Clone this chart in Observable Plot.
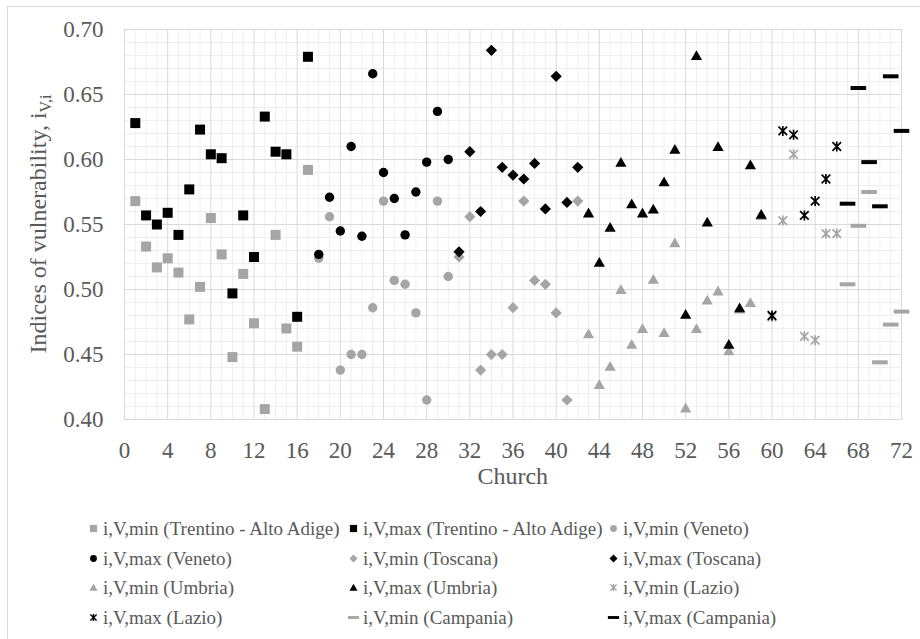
<!DOCTYPE html>
<html><head><meta charset="utf-8">
<script src="https://cdn.jsdelivr.net/npm/d3@7"></script>
<script src="https://cdn.jsdelivr.net/npm/@observablehq/plot@0.6"></script>
<style>
body{margin:0;background:#fff;width:920px;height:639px;overflow:hidden;position:relative;font-family:"Liberation Serif","Times New Roman",serif;color:#595959}
#frame{position:absolute;left:7px;top:6px;width:930px;height:650px;border:1px solid #d9d9d9;pointer-events:none;}
#chart{position:absolute;left:0;top:0}
#legend{position:absolute;left:87px;top:514px;display:grid;grid-template-columns:260px 260px 260px;grid-auto-rows:29.6px;font-size:19px;line-height:29.6px;white-space:nowrap}
.item{display:flex;align-items:center}
.item svg{margin-right:3px;flex:none}
</style></head>
<body><div id="chart"></div><div id="legend"></div><div id="frame"></div>
<script>
// ---- data ----
const trentinoChurch = [1,2,3,4,5,6,7,8,9,10,11,12,13,14,15,16,17];
const trentinoMin = [0.568,0.533,0.517,0.524,0.513,0.477,0.502,0.555,0.527,0.448,0.512,0.474,0.408,0.542,0.470,0.456,0.592];
const trentinoMax = [0.628,0.557,0.550,0.559,0.542,0.577,0.623,0.604,0.601,0.497,0.557,0.525,0.633,0.606,0.604,0.479,0.679];
const venetoChurch = [18,19,20,21,22,23,24,25,26,27,28,29,30];
const venetoMin = [0.524,0.556,0.438,0.450,0.450,0.486,0.568,0.507,0.504,0.482,0.415,0.568,0.510];
const venetoMax = [0.527,0.571,0.545,0.610,0.541,0.666,0.590,0.570,0.542,0.575,0.598,0.637,0.600];
const toscanaChurch = [31,32,33,34,35,36,37,38,39,40,41,42];
const toscanaMin = [0.525,0.556,0.438,0.450,0.450,0.486,0.568,0.507,0.504,0.482,0.415,0.568];
const toscanaMax = [0.529,0.606,0.560,0.684,0.594,0.588,0.585,0.597,0.562,0.664,0.567,0.594];
const umbriaChurch = [43,44,45,46,47,48,49,50,51,52,53,54,55,56,57,58,59];
const umbriaMin = [0.466,0.427,0.441,0.500,0.458,0.470,0.508,0.467,0.536,0.409,0.470,0.492,0.499,0.453,0.485,0.490,0.557];
const umbriaMax = [0.559,0.521,0.548,0.598,0.566,0.559,0.562,0.583,0.608,0.481,0.680,0.552,0.610,0.458,0.486,0.596,0.558];
const lazioChurch = [60,61,62,63,64,65,66];
const lazioMin = [0.479,0.553,0.604,0.464,0.461,0.543,0.543];
const lazioMax = [0.480,0.622,0.619,0.557,0.568,0.585,0.610];
const campaniaChurch = [67,68,69,70,71,72];
const campaniaMin = [0.504,0.549,0.575,0.444,0.473,0.483];
const campaniaMax = [0.566,0.655,0.598,0.564,0.664,0.622];
const xTicks = [0,4,8,12,16,20,24,28,32,36,40,44,48,52,56,60,64,68,72];
const yTicks = [0.40,0.45,0.50,0.55,0.60,0.65,0.70];
const seriesNames = [
  "i,V,min (Trentino - Alto Adige)","i,V,max (Trentino - Alto Adige)","i,V,min (Veneto)",
  "i,V,max (Veneto)","i,V,min (Toscana)","i,V,max (Toscana)",
  "i,V,min (Umbria)","i,V,max (Umbria)","i,V,min (Lazio)",
  "i,V,max (Lazio)","i,V,min (Campania)","i,V,max (Campania)"];

// ---- marker shapes ----
const GRAY = "#a5a5a5", BLACK = "#000000";
function shape(kind, s){
  return {draw(c){
    if(kind==="square"){c.rect(-5*s,-5*s,10*s,10*s);}
    else if(kind==="circle"){const r=4.7*s;c.moveTo(r,0);c.arc(0,0,r,0,2*Math.PI);}
    else if(kind==="diamond"){const r=5.6*s;c.moveTo(0,-r);c.lineTo(r,0);c.lineTo(0,r);c.lineTo(-r,0);c.closePath();}
    else if(kind==="triangle"){c.moveTo(0,-5.2*s);c.lineTo(5.6*s,4.6*s);c.lineTo(-5.6*s,4.6*s);c.closePath();}
    else if(kind==="star"){const r=4.3*s;c.moveTo(-r,-r);c.lineTo(r,r);c.moveTo(-r,r);c.lineTo(r,-r);c.moveTo(0,-5*s);c.lineTo(0,5*s);}
    else if(kind==="dash"){c.rect(-7.8*s,-2*s,15.6*s,4*s);}
  }};
}
const series = [
  {church:trentinoChurch, v:trentinoMin, kind:"square", color:GRAY},
  {church:trentinoChurch, v:trentinoMax, kind:"square", color:BLACK},
  {church:venetoChurch, v:venetoMin, kind:"circle", color:GRAY},
  {church:venetoChurch, v:venetoMax, kind:"circle", color:BLACK},
  {church:toscanaChurch, v:toscanaMin, kind:"diamond", color:GRAY},
  {church:toscanaChurch, v:toscanaMax, kind:"diamond", color:BLACK},
  {church:umbriaChurch, v:umbriaMin, kind:"triangle", color:GRAY},
  {church:umbriaChurch, v:umbriaMax, kind:"triangle", color:BLACK},
  {church:lazioChurch, v:lazioMin, kind:"star", color:GRAY},
  {church:lazioChurch, v:lazioMax, kind:"star", color:BLACK},
  {church:campaniaChurch, v:campaniaMin, kind:"dash", color:GRAY},
  {church:campaniaChurch, v:campaniaMax, kind:"dash", color:BLACK}
].map((s,i)=>({...s, name:seriesNames[i]}));

const minorX = d3.range(0,73).filter(d=>d%4!==0);
const minorY = d3.range(40,71).filter(d=>d%5!==0).map(d=>d/100);

const dotMarks = series.map(s=>{
  const data = s.church.map((c,i)=>({church:c, value:s.v[i]}));
  const isStar = s.kind==="star";
  return Plot.dot(data, {x:"church", y:"value", r:5, symbol:shape(s.kind,1),
    fill: isStar ? "none" : s.color, stroke: isStar ? s.color : "none", strokeWidth: isStar ? 1.7 : 0});
});

const plot = Plot.plot({
  width: 920, height: 500,
  marginLeft: 124, marginRight: 19, marginTop: 29, marginBottom: 81,
  style: {fontFamily:'"Liberation Serif","Times New Roman",serif', fontSize:"23px", color:"#595959", background:"transparent", overflow:"visible"},
  x: {domain:[0,72], ticks:xTicks, tickSize:0, tickPadding:22, label:null},
  y: {domain:[0.40,0.70], ticks:yTicks, tickFormat:d3.format(".2f"), tickSize:0, tickPadding:21, label:null},
  marks: [
    Plot.ruleX(minorX, {stroke:"#efefef", strokeWidth:1}),
    Plot.ruleY(minorY, {stroke:"#efefef", strokeWidth:1}),
    Plot.ruleX(xTicks, {stroke:"#d9d9d9", strokeWidth:1}),
    Plot.ruleY(yTicks, {stroke:"#d9d9d9", strokeWidth:1}),
    Plot.frame({stroke:"#d9d9d9"}),
    ...dotMarks
  ]
});
document.getElementById("chart").appendChild(plot);

const svg = d3.select(plot);
svg.append("text").attr("x", 512.8).attr("y", 484).attr("text-anchor","middle")
  .attr("fill","#595959").style("font-size","24px").text("Church");
const yt = svg.append("text").attr("transform","translate(46,224) rotate(-90)").attr("text-anchor","middle")
  .attr("fill","#595959").style("font-size","24px");
yt.append("tspan").text("Indices of vulnerability, i");
yt.append("tspan").attr("dy","0.3em").style("font-size","16px").text("V,i");

// ---- legend ----
const legend = d3.select("#legend");
series.forEach(s=>{
  const it = legend.append("div").attr("class","item");
  const m = it.append("svg").attr("width",13).attr("height",13);
  const isStar = s.kind==="star";
  const p = d3.path(); shape(s.kind, 0.72).draw(p);
  m.append("path").attr("transform","translate(6.5,6.5)").attr("d", p.toString())
    .attr("fill", isStar ? "none" : s.color).attr("stroke", isStar ? s.color : "none").attr("stroke-width",1.4);
  it.append("span").text(s.name);
});
</script></body></html>
